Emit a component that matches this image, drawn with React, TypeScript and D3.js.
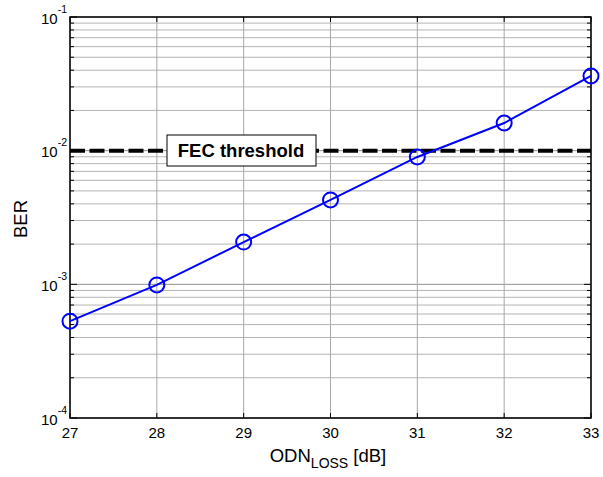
import React from "react";
import * as d3 from "d3";

const xValues = [27, 28, 29, 30, 31, 32, 33];
const berValues = [5.3e-4, 9.9e-4, 2.07e-3, 4.28e-3, 8.97e-3, 1.61e-2, 3.62e-2];
const xTicks = [27, 28, 29, 30, 31, 32, 33];
const yExponents = [-4, -3, -2, -1];
const fecThreshold = 1e-2;
const fecLabel = "FEC threshold";

export default function App() {
  const W = 603, H = 477;
  const L = 70, R = 591, T = 17, B = 418;
  const x = d3.scaleLinear().domain([27, 33]).range([L, R]);
  const y = d3.scaleLog().domain([1e-4, 1e-1]).range([B, T]);
  const minor: number[] = [];
  for (let e = -4; e < -1; e++) for (let m = 2; m <= 9; m++) minor.push(m * Math.pow(10, e));
  const line = d3.line<number>().x((_, i) => x(xValues[i])).y((d) => y(d));
  const font = "'Liberation Sans', Arial, sans-serif";
  const yf = y(fecThreshold);
  return (
    <svg width={W} height={H} style={{ position: "absolute", left: 0, top: 0 }} fontFamily={font}>
      <rect width={W} height={H} fill="#fff" />
      {minor.map((v, i) => (
        <line key={"mg" + i} x1={L} x2={R} y1={y(v)} y2={y(v)} stroke="#b4b4b4" strokeWidth={1} />
      ))}
      {yExponents.map((e) => (
        <line key={"Mg" + e} x1={L} x2={R} y1={y(Math.pow(10, e))} y2={y(Math.pow(10, e))} stroke="#909090" strokeWidth={1} />
      ))}
      {xTicks.map((t) => (
        <line key={"vg" + t} x1={x(t)} x2={x(t)} y1={T} y2={B} stroke="#a8a8a8" strokeWidth={1} />
      ))}
      {/* FEC threshold */}
      <line x1={L} x2={R} y1={yf} y2={yf} stroke="#000" strokeWidth={4} strokeDasharray="15,4.5" />
      {/* ticks */}
      {minor.map((v, i) => (
        <g key={"mt" + i}>
          <line x1={L} x2={L + 4} y1={y(v)} y2={y(v)} stroke="#000" />
          <line x1={R} x2={R - 4} y1={y(v)} y2={y(v)} stroke="#000" />
        </g>
      ))}
      {yExponents.map((e) => (
        <g key={"Mt" + e}>
          <line x1={L} x2={L + 7} y1={y(Math.pow(10, e))} y2={y(Math.pow(10, e))} stroke="#000" />
          <line x1={R} x2={R - 7} y1={y(Math.pow(10, e))} y2={y(Math.pow(10, e))} stroke="#000" />
        </g>
      ))}
      {xTicks.map((t) => (
        <g key={"xt" + t}>
          <line x1={x(t)} x2={x(t)} y1={B} y2={B - 5} stroke="#000" />
          <line x1={x(t)} x2={x(t)} y1={T} y2={T + 5} stroke="#000" />
        </g>
      ))}
      <rect x={L} y={T} width={R - L} height={B - T} fill="none" stroke="#000" strokeWidth={1.5} />
      {/* data */}
      <path d={line(berValues) || ""} fill="none" stroke="#0000ff" strokeWidth={2} />
      {berValues.map((v, i) => (
        <circle key={"c" + i} cx={x(xValues[i])} cy={y(v)} r={7.5} fill="none" stroke="#0000ff" strokeWidth={2} />
      ))}
      {/* FEC box */}
      <rect x={167} y={135} width={149} height={31} fill="#fff" stroke="#000" strokeWidth={1} />
      <text x={241} y={157} textAnchor="middle" fontSize={18.5} fontWeight="bold">{fecLabel}</text>
      {/* x tick labels */}
      {xTicks.map((t) => (
        <text key={"xl" + t} x={x(t)} y={438} textAnchor="middle" fontSize={15}>{t}</text>
      ))}
      {/* y tick labels */}
      {yExponents.map((e) => (
        <text key={"yl" + e} x={67} y={y(Math.pow(10, e)) + 6.5} textAnchor="end" fontSize={15}>
          10
          <tspan dy={-11} fontSize={10.5}>{e}</tspan>
        </text>
      ))}
      {/* axis labels */}
      <text x={328} y={462} textAnchor="middle" fontSize={18.5}>
        ODN<tspan dy={6} fontSize={14}>LOSS</tspan><tspan dy={-6}> [dB]</tspan>
      </text>
      <text transform="translate(27,219) rotate(-90)" textAnchor="middle" fontSize={18.5}>BER</text>
    </svg>
  );
}
